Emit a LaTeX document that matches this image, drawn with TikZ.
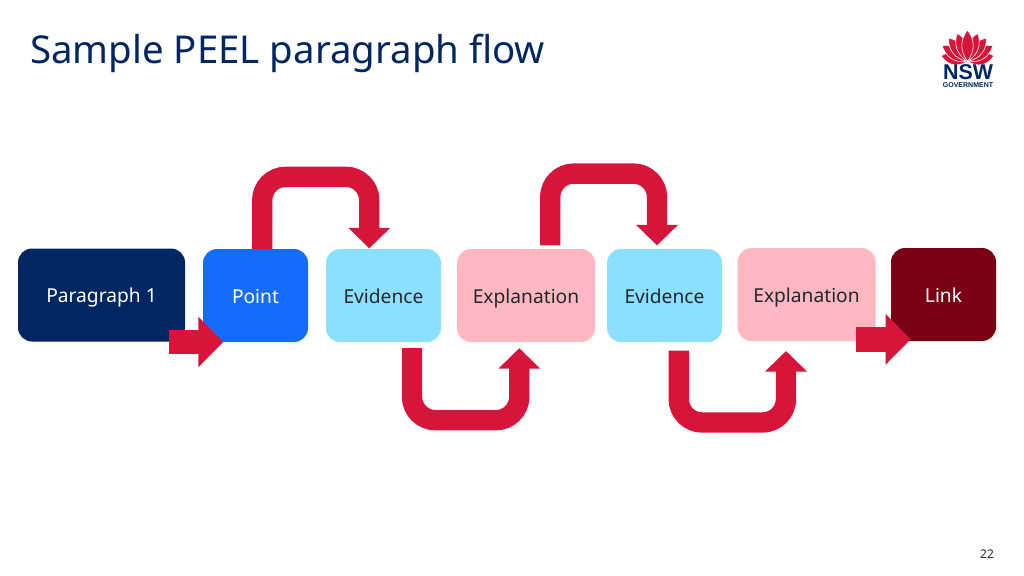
\documentclass[tikz,border=0pt]{standalone}
\usepackage{fontspec}
\setmainfont{Noto Sans}
\newfontfamily\logofont{Liberation Sans}
\usetikzlibrary{arrows.meta}
\definecolor{navy}{HTML}{002664}
\definecolor{nswblue}{HTML}{146CFD}
\definecolor{skyb}{HTML}{8CE0FF}
\definecolor{pinkb}{HTML}{FFB8C1}
\definecolor{maroonb}{HTML}{7A0014}
\definecolor{nswred}{HTML}{D7153A}
\definecolor{ink}{HTML}{22272B}
\tikzset{
  boxn/.style={inner sep=0pt,rounded corners=14pt,font=\fontsize{19.2}{23}\selectfont,minimum height=93pt,text height=15.6pt,text depth=0pt},
  uflow/.style={draw=nswred,line width=20.3pt,rounded corners=23.5pt,-{Triangle[length=20.5pt,width=40.6pt]}},
  sflow/.style={draw=nswred,line width=24.5pt,-{Triangle[length=25pt,width=49pt]}},
  petal/.style={fill=nswred,draw=white,line width=0.6pt}
}
\begin{document}
\begin{tikzpicture}[x=1pt,y=-1pt]
\useasboundingbox (0,0) rectangle (1024,575);
\node[anchor=west,text=navy,font=\fontsize{38.4}{44}\selectfont,inner sep=0pt] (title) at (30,53) {Sample PEEL paragraph flow};
% boxes
\node[boxn,fill=navy,text=white,minimum width=167pt] (para) at (101.5,295) {Paragraph 1};
\node[boxn,fill=nswblue,text=white,minimum width=105pt] (point) at (255.5,295.5) {Point};
\node[boxn,fill=skyb,text=ink,minimum width=115pt] (ev1) at (383.5,295.5) {Evidence};
\node[boxn,fill=pinkb,text=ink,minimum width=138pt] (ex1) at (526,295.5) {Explanation};
\node[boxn,fill=skyb,text=ink,minimum width=115pt] (ev2) at (664.5,295.5) {Evidence};
\node[boxn,fill=pinkb,text=ink,minimum width=138pt] (ex2) at (806.5,294.5) {Explanation};
\node[boxn,fill=maroonb,text=white,minimum width=105pt] (link) at (943.5,294.5) {Link};
% connector ends
\coordinate (a0) at (169,342);
\coordinate (a0e) at (223.3,342);
\coordinate (u1s) at (262.2,249);
\coordinate (u1e) at (369.3,248.4);
\coordinate (d1s) at (412,348);
\coordinate (d1e) at (519.3,348.2);
\coordinate (u2s) at (550.2,245.4);
\coordinate (u2e) at (657,245.4);
\coordinate (d2s) at (678.7,350.7);
\coordinate (d2e) at (786,351);
\coordinate (a1) at (855.7,339.3);
\coordinate (a1e) at (910.7,339.3);
\draw[sflow] (a0) -- (a0e);
\draw[uflow] (u1s) -- (262.2,176.8) -| (u1e);
\draw[uflow] (d1s) -- (412,420.2) -| (d1e);
\draw[uflow] (u2s) -- (550.2,173.6) -| (u2e);
\draw[uflow] (d2s) -- (678.7,422.5) -| (d2e);
\draw[sflow] (a1) -- (a1e);
% page number
\node[text=ink,font=\fontsize{12}{14}\selectfont,inner sep=0pt] (pg) at (987,554) {22};
% logo
\begin{scope}[shift={(967.5,61.5)}]
  \foreach \a/\l/\w in {-78/27/8.5,78/27/8.5,-58/30/8.5,58/30/8.5,-39/30/8.5,39/30/8.5,-20/30/8,20/30/8,0/31.5/8}{
    \fill[petal,rotate=\a] (0,0) .. controls (-\w,-\l*0.35) and (-\w*0.9,-\l*0.7) .. (0,-\l) .. controls (\w*0.9,-\l*0.7) and (\w,-\l*0.35) .. (0,0) -- cycle;
  }
\end{scope}
\node[text=navy,font=\logofont\bfseries\fontsize{21.4}{22}\selectfont,inner sep=0pt,anchor=base] (nsw) at (968,80) {NSW};
\node[text=navy,font=\logofont\bfseries\fontsize{7}{8}\selectfont,inner sep=0pt,anchor=base] (gov) at (968,88) {GOVERNMENT};
\end{tikzpicture}
\end{document}
